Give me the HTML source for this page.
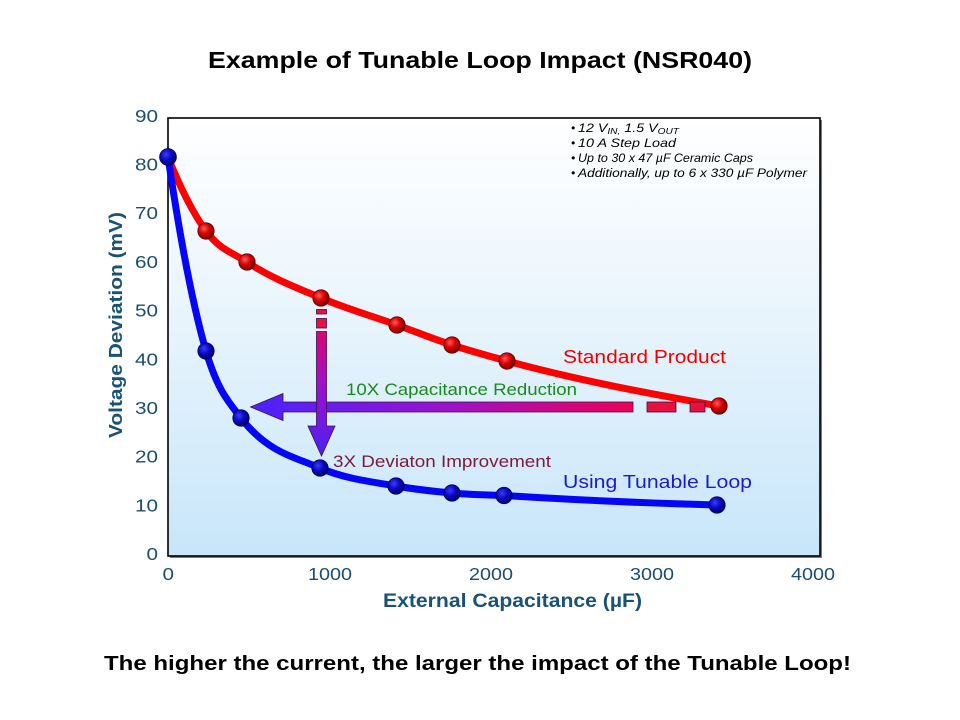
<!DOCTYPE html>
<html>
<head>
<meta charset="utf-8">
<style>
  html, body { margin:0; padding:0; background:#ffffff; }
  svg { display:block; }
  text { font-family: "Liberation Sans", Arial, sans-serif; }
</style>
</head>
<body>
<svg width="960" height="720" viewBox="0 0 960 720" xmlns="http://www.w3.org/2000/svg">
  <defs>
    <linearGradient id="bg" x1="0" y1="0" x2="0" y2="1">
      <stop offset="0" stop-color="#ffffff"/>
      <stop offset="0.35" stop-color="#eef7fd"/>
      <stop offset="1" stop-color="#c8e6fa"/>
    </linearGradient>
    <radialGradient id="rdot" cx="0.38" cy="0.35" r="0.65">
      <stop offset="0" stop-color="#ff5a5a"/>
      <stop offset="0.5" stop-color="#d80000"/>
      <stop offset="1" stop-color="#7a0000"/>
    </radialGradient>
    <radialGradient id="bdot" cx="0.38" cy="0.35" r="0.65">
      <stop offset="0" stop-color="#3c3cff"/>
      <stop offset="0.5" stop-color="#0a0ac4"/>
      <stop offset="1" stop-color="#00006e"/>
    </radialGradient>
    <linearGradient id="hgrad" gradientUnits="userSpaceOnUse" x1="250" y1="0" x2="640" y2="0">
      <stop offset="0" stop-color="#4a22ff"/>
      <stop offset="0.5" stop-color="#9a12cc"/>
      <stop offset="1" stop-color="#f20050"/>
    </linearGradient>
    <linearGradient id="vgrad" gradientUnits="userSpaceOnUse" x1="0" y1="310" x2="0" y2="456">
      <stop offset="0" stop-color="#f20048"/>
      <stop offset="0.5" stop-color="#a010c8"/>
      <stop offset="1" stop-color="#4a22f0"/>
    </linearGradient>
  </defs>

  <!-- Title -->
  <text x="208" y="68" font-size="23" font-weight="bold" fill="#000" textLength="544" lengthAdjust="spacingAndGlyphs">Example of Tunable Loop Impact (NSR040)</text>

  <!-- Plot area shadow + background -->
  <rect x="170" y="120" width="652" height="438" fill="#7a7a7a"/>
  <rect x="168" y="118" width="652" height="438" fill="url(#bg)" stroke="#000" stroke-width="1.6"/>

  <!-- Notes -->
  <g font-size="12" font-style="italic" fill="#000">
    <text x="571" y="132">•</text>
    <text x="578" y="132" textLength="101" lengthAdjust="spacingAndGlyphs">12 V<tspan font-size="8.5" dy="2">IN,</tspan><tspan dy="-2"> 1.5 V</tspan><tspan font-size="8.5" dy="2">OUT</tspan></text>
    <text x="571" y="147">•</text>
    <text x="578" y="147" textLength="98" lengthAdjust="spacingAndGlyphs">10 A Step Load</text>
    <text x="571" y="162">•</text>
    <text x="578" y="162" textLength="175" lengthAdjust="spacingAndGlyphs">Up to 30 x 47 µF Ceramic Caps</text>
    <text x="571" y="177">•</text>
    <text x="578" y="177" textLength="229" lengthAdjust="spacingAndGlyphs">Additionally, up to 6 x 330 µF Polymer</text>
  </g>

  <!-- Red curve -->
  <path d="M168,157 C180.7,188.9 193.3,213.6 206,231 C219.7,249.8 233.3,253 247,262 C271.7,278.3 296.3,287.6 321,298 C346.3,308.7 371.7,315.9 397,325 C415.3,331.6 433.7,339 452,345 C470.3,351 488.7,356 507,361 C577.7,380.4 648.3,393.3 719,406"
        fill="none" stroke="#ff0000" stroke-width="7" stroke-linecap="round" stroke-linejoin="round"/>

  <!-- Blue curve -->
  <path d="M168,157 C180.7,242.7 193.3,307.4 206,351 C217.7,391.1 229.3,402.8 241,418 C267.3,452.2 293.7,456.7 320,468 C345.3,478.9 370.7,481.6 396,486 C414.3,489.2 432.7,491.3 452,493 C468.7,494.6 486.3,495 504,495.5 C575,499.9 646,503.2 717,505"
        fill="none" stroke="#0606f6" stroke-width="7" stroke-linecap="round" stroke-linejoin="round"/>

  <!-- Horizontal arrow -->
  <g stroke="#3a1050" stroke-width="0.8">
    <path d="M250.5,407 L283,393.5 L283,402 L633,402 L633,412 L283,412 L283,420.5 Z" fill="url(#hgrad)"/>
    <rect x="647" y="402" width="29" height="10" fill="#e8103c"/>
    <rect x="690" y="402" width="15" height="10" fill="#e8103c"/>
  </g>

  <!-- Vertical arrow -->
  <g stroke="#3a1050" stroke-width="0.8">
    <rect x="316.5" y="309.5" width="10" height="4.5" fill="#e8103c"/>
    <rect x="316.5" y="318.5" width="10" height="9.5" fill="#e8103c"/>
    <path d="M316.5,331.5 L326.5,331.5 L326.5,426 L335,426 L321.5,456 L308,426 L316.5,426 Z" fill="url(#vgrad)"/>
  </g>

  <!-- Red markers -->
  <g fill="url(#rdot)" stroke="#6a0000" stroke-width="0.8">
    <circle cx="206" cy="231" r="8.2"/>
    <circle cx="247" cy="262" r="8.2"/>
    <circle cx="321" cy="298" r="8.2"/>
    <circle cx="397" cy="325" r="8.2"/>
    <circle cx="452" cy="345" r="8.2"/>
    <circle cx="507" cy="361" r="8.2"/>
    <circle cx="719" cy="406" r="8.2"/>
  </g>

  <!-- Blue markers -->
  <g fill="url(#bdot)" stroke="#00005a" stroke-width="0.8">
    <circle cx="168" cy="157" r="8.4"/>
    <circle cx="206" cy="351" r="8.2"/>
    <circle cx="241" cy="418" r="8.2"/>
    <circle cx="320" cy="468" r="8.2"/>
    <circle cx="396" cy="486" r="8.2"/>
    <circle cx="452" cy="493" r="8.2"/>
    <circle cx="504" cy="495.5" r="8.2"/>
    <circle cx="717" cy="505" r="8.2"/>
  </g>

  <!-- Annotations -->
  <text x="563" y="363" font-size="18" fill="#ee0000" textLength="163" lengthAdjust="spacingAndGlyphs">Standard  Product</text>
  <text x="346" y="395" font-size="17" fill="#1a8a1a" textLength="231" lengthAdjust="spacingAndGlyphs">10X Capacitance Reduction</text>
  <text x="333" y="467" font-size="17" fill="#7c1a3c" textLength="218" lengthAdjust="spacingAndGlyphs">3X Deviaton Improvement</text>
  <text x="563" y="488" font-size="18" fill="#1c1cc8" textLength="189" lengthAdjust="spacingAndGlyphs">Using  Tunable  Loop</text>

  <!-- Y tick labels -->
  <g font-size="17.5" fill="#1d4d6e">
    <text x="135" y="122" textLength="23" lengthAdjust="spacingAndGlyphs">90</text>
    <text x="135" y="170.5" textLength="23" lengthAdjust="spacingAndGlyphs">80</text>
    <text x="135" y="219.2" textLength="23" lengthAdjust="spacingAndGlyphs">70</text>
    <text x="135" y="267.9" textLength="23" lengthAdjust="spacingAndGlyphs">60</text>
    <text x="135" y="316.6" textLength="23" lengthAdjust="spacingAndGlyphs">50</text>
    <text x="135" y="365.3" textLength="23" lengthAdjust="spacingAndGlyphs">40</text>
    <text x="135" y="414" textLength="23" lengthAdjust="spacingAndGlyphs">30</text>
    <text x="135" y="462.7" textLength="23" lengthAdjust="spacingAndGlyphs">20</text>
    <text x="135" y="511.4" textLength="23" lengthAdjust="spacingAndGlyphs">10</text>
    <text x="146.5" y="560" textLength="11.5" lengthAdjust="spacingAndGlyphs">0</text>
  </g>

  <!-- X tick labels -->
  <g font-size="17.5" fill="#1d4d6e">
    <text x="162.5" y="580" textLength="11.5" lengthAdjust="spacingAndGlyphs">0</text>
    <text x="308" y="580" textLength="44" lengthAdjust="spacingAndGlyphs">1000</text>
    <text x="469" y="580" textLength="44" lengthAdjust="spacingAndGlyphs">2000</text>
    <text x="630" y="580" textLength="44" lengthAdjust="spacingAndGlyphs">3000</text>
    <text x="791" y="580" textLength="44" lengthAdjust="spacingAndGlyphs">4000</text>
  </g>

  <!-- Axis titles -->
  <text x="383" y="607" font-size="19" font-weight="bold" fill="#1a5274" textLength="259" lengthAdjust="spacingAndGlyphs">External Capacitance (µF)</text>
  <text transform="translate(122,325) rotate(-90)" x="0" y="0" text-anchor="middle" font-size="18.5" font-weight="bold" fill="#1a5274" textLength="226" lengthAdjust="spacingAndGlyphs">Voltage Deviation (mV)</text>

  <!-- Bottom caption -->
  <text x="104" y="670" font-size="20" font-weight="bold" fill="#000" textLength="747" lengthAdjust="spacingAndGlyphs">The higher the current, the larger the impact of the Tunable Loop!</text>
</svg>
</body>
</html>
